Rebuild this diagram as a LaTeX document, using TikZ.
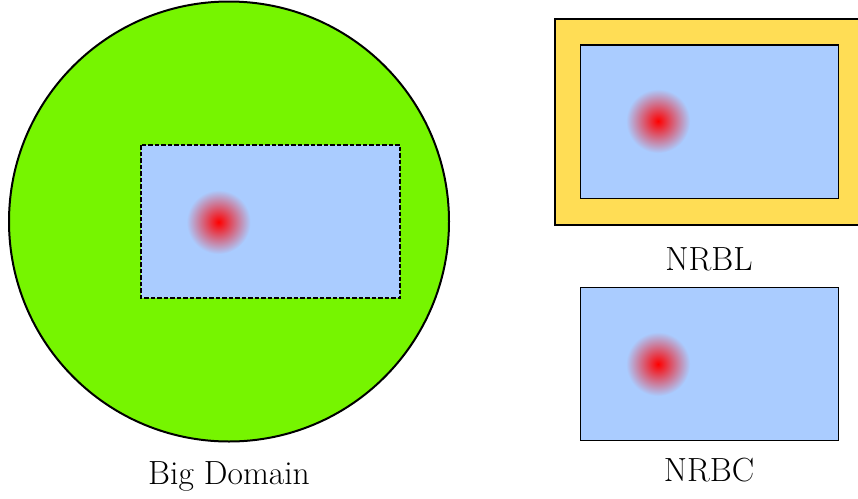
\documentclass[tikz,border=0pt]{standalone}
\usepackage{fontspec}
\definecolor{domaingreen}{RGB}{118,245,0}
\definecolor{skyblue}{RGB}{170,204,255}
\definecolor{layeryellow}{RGB}{255,221,85}
\begin{document}
\begin{tikzpicture}[x=1pt,y=-1pt,
  outline/.style={draw=black,line width=2pt},
  region/.style={fill=skyblue,draw=black,line width=1.7pt},
  source/.style={inner color=red,outer color=skyblue},
  caption/.style={font=\fontsize{33.5}{40}\selectfont,inner sep=0pt}]
\useasboundingbox (0,0) rectangle (858,498);

% big circular domain with dashed inner region
\fill[domaingreen,outline] (229,221.5) circle (220);
\draw[region,line width=1.3pt,dash pattern=on 4.5pt off 2pt] (141,145) rectangle (400,298);
\shade[source] (218.5,222) circle (32);
\node[caption] (bigdomain) at (229,476) {Big Domain};

% NRBL: region wrapped in an absorbing layer
\draw[fill=layeryellow,outline] (555,18.5) rectangle (870,224.5);
\draw[region] (580.5,45) rectangle (838.5,198.5);
\shade[source] (658,121) circle (32);
\node[caption] (nrbl) at (709,259) {NRBL};

% NRBC: region with a boundary condition only
\draw[region] (580.5,287.5) rectangle (838.5,440.5);
\shade[source] (658,364) circle (32);
\node[caption] (nrbc) at (709,470) {NRBC};
\end{tikzpicture}
\end{document}
